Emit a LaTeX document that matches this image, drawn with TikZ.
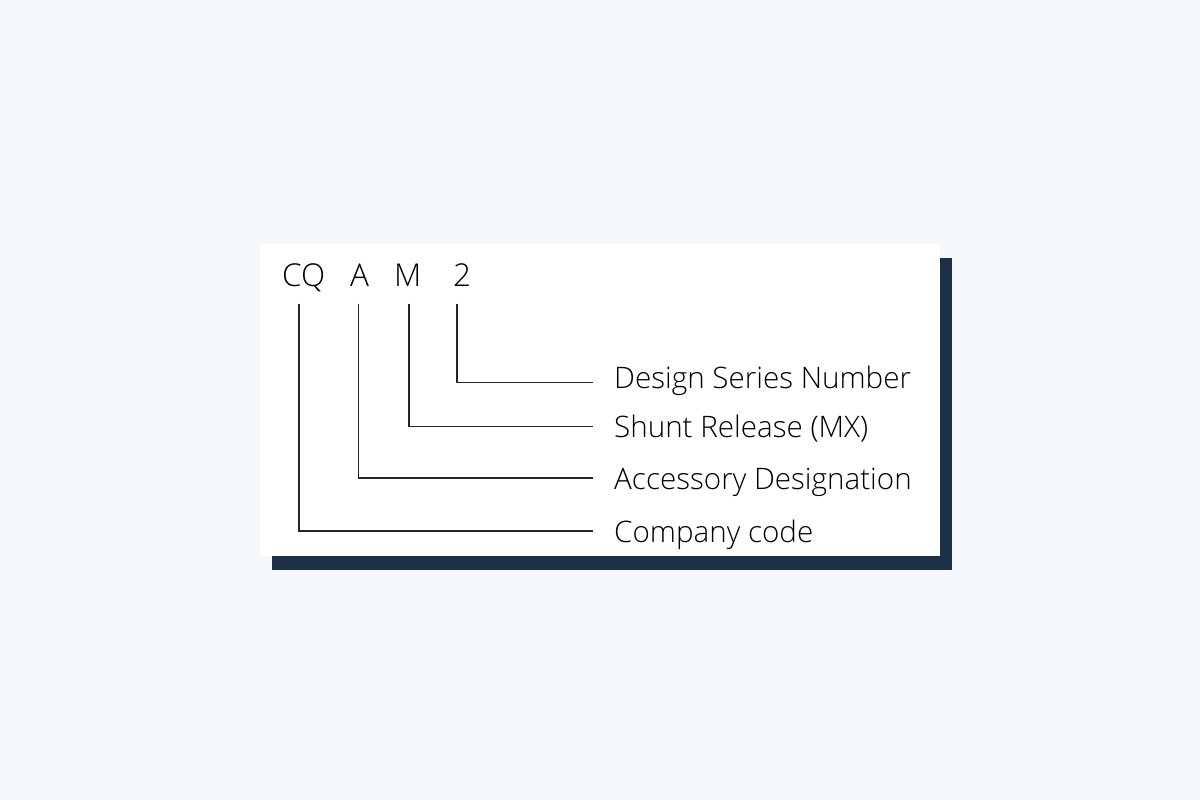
\documentclass[tikz,border=0pt]{standalone}
\usepackage{fontspec}
\setmainfont{Open Sans Light}
\definecolor{pagebg}{HTML}{F4F7FA}
\definecolor{navy}{HTML}{1C3049}
\definecolor{wire}{HTML}{262626}
\begin{document}
\begin{tikzpicture}[x=1pt,y=-1pt,
    letter/.style={font=\fontsize{31.5}{32}\selectfont,inner sep=0pt,text depth=0pt,anchor=base west},
    field/.style={font=\fontsize{29.6}{30}\selectfont,inner ysep=0pt,inner xsep=21pt,text depth=0pt,anchor=base west},
    wire/.style={draw=wire,line width=1.2pt}]
    \useasboundingbox (0,0) rectangle (1200,800);
    \fill[pagebg] (0,0) rectangle (1200,800);
    \fill[navy] (272,258) rectangle (952,570);
    \fill[white] (260,244) rectangle (940,556);
    % code letters
    \node[letter] (cq) at (282,286) {CQ};
    \node[letter] (a) at (350,286) {A};
    \node[letter] (m) at (394,286) {M};
    \node[letter] (two) at (453,286) {2};
    % field names
    \node[field] (lDesign) at (593,388) {Design Series Number};
    \node[field] (lShunt) at (593,437) {Shunt Release (MX)};
    \node[field] (lAcc) at (593,489) {Accessory Designation};
    \node[field] (lComp) at (593,542) {Company code};
    % leader lines
    \draw[wire] ([xshift=4pt,yshift=-17.5pt]two.base west) |- ([yshift=5.5pt]lDesign.base west);
    \draw[wire] ([xshift=15pt,yshift=-17.5pt]m.base west) |- ([yshift=10.5pt]lShunt.base west);
    \draw[wire] ([xshift=8.5pt,yshift=-17.5pt]a.base west) |- ([yshift=11pt]lAcc.base west);
    \draw[wire] ([xshift=17pt,yshift=-17.5pt]cq.base west) |- ([yshift=11pt]lComp.base west);
\end{tikzpicture}
\end{document}
